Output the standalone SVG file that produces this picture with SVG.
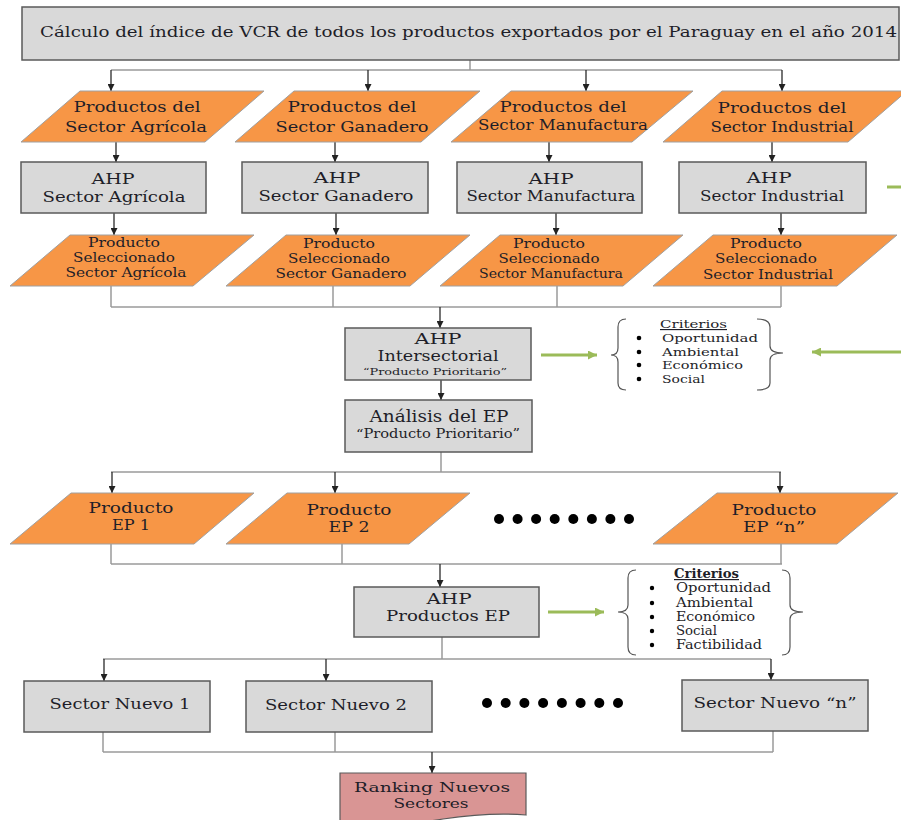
<svg xmlns="http://www.w3.org/2000/svg" width="901" height="820" viewBox="0 0 901 820" font-family="'DejaVu Serif', 'Liberation Serif', serif">
<defs>
<marker id="ah" viewBox="0 0 10 10" refX="10" refY="5" markerWidth="7" markerHeight="7" markerUnits="userSpaceOnUse" orient="auto"><path d="M0,0 L10,5 L0,10 z" fill="#222"/></marker>
<marker id="ahg" viewBox="0 0 10 10" refX="10" refY="5" markerWidth="11" markerHeight="9" markerUnits="userSpaceOnUse" orient="auto"><path d="M0,0 L10,5 L0,10 z" fill="#9bbb59"/></marker>
</defs>
<style>
.box{fill:#d9d9d9;stroke:#5a5a5a;stroke-width:1.5}
.par{fill:#f79646;stroke:#a0a0a0;stroke-width:1}
.rank{fill:#d99594;stroke:#5a5a5a;stroke-width:1.2}
.bus{fill:none;stroke:#9a9a9a;stroke-width:1.5}
.arr{fill:none;stroke:#2a2a2a;stroke-width:1.3;marker-end:url(#ah)}
.garr{fill:none;stroke:#9bbb59;stroke-width:3;marker-end:url(#ahg)}
.gline{fill:none;stroke:#9bbb59;stroke-width:3}
.brace{fill:none;stroke:#555;stroke-width:1.2}
text{font-family:'DejaVu Serif','Liberation Serif',serif;fill:#1e1e28}
.t16{font-size:16px}
.t155{font-size:15.5px}
.t15{font-size:15px}
.t14{font-size:14px}
.t13{font-size:13px}
.t125{font-size:12.5px}
.t12{font-size:12px}
.t115{font-size:11.5px}
.t10{font-size:10px}
.c{text-anchor:middle}
.dot{fill:#000}
.bul{fill:#000}
</style>

<g id="connectors">
<path class="bus" d="M470,60 V70 M111,70 H782"/>
<path class="arr" d="M111,70 V91"/>
<path class="arr" d="M368,70 V91"/>
<path class="arr" d="M586,70 V91"/>
<path class="arr" d="M782,70 V91"/>
<path class="arr" d="M116,142 V162"/>
<path class="arr" d="M335,142 V162"/>
<path class="arr" d="M549,142 V162"/>
<path class="arr" d="M772,142 V162"/>
<path class="arr" d="M114,213 V235"/>
<path class="arr" d="M336,213 V235"/>
<path class="arr" d="M556,213 V235"/>
<path class="arr" d="M781,213 V235"/>
<path class="bus" d="M111,286 V307 M333,286 V307 M557,286 V307 M781,286 V307 M111,307 H781"/>
<path class="arr" d="M440,307 V328"/>
<path class="arr" d="M441,380 V400"/>
<path class="bus" d="M441,452 V472 M111,472 H781"/>
<path class="arr" d="M112,472 V493"/>
<path class="arr" d="M335,472 V493"/>
<path class="arr" d="M780,472 V493"/>
<path class="bus" d="M111,544 V564 M342,544 V564 M781,544 V564 M111,564 H782"/>
<path class="arr" d="M440,564 V587"/>
<path class="bus" d="M442,637 V659 M103,659 H771"/>
<path class="arr" d="M104,659 V681"/>
<path class="arr" d="M326,659 V681"/>
<path class="arr" d="M771,659 V680"/>
<path class="bus" d="M103,732 V752 M335,732 V752 M773,731 V752 M103,752 H773"/>
<path class="arr" d="M432,752 V773"/>
<path class="garr" d="M541,355 H597"/>
<path class="garr" d="M901,352 H812"/>
<path class="garr" d="M548,612 H604"/>
<path class="gline" d="M887,187 H901"/>
</g>

<g id="n-title">
<rect class="box" x="22" y="7" width="877" height="53"/>
<text class="t155" x="40" y="37" textLength="857" lengthAdjust="spacingAndGlyphs">Cálculo del índice de VCR de todos los productos exportados por el Paraguay en el año 2014</text>
</g>

<g id="n-prod-agr">
<polygon class="par" points="80,91 264,91 205,142 21,142"/>
<text class="t15 c" x="137" y="112" textLength="127" lengthAdjust="spacingAndGlyphs">Productos del</text>
<text class="t15 c" x="136" y="132" textLength="142" lengthAdjust="spacingAndGlyphs">Sector Agrícola</text>
</g>
<g id="n-prod-gan">
<polygon class="par" points="294,91 480,91 421,142 235,142"/>
<text class="t15 c" x="352" y="112" textLength="129" lengthAdjust="spacingAndGlyphs">Productos del</text>
<text class="t15 c" x="352" y="132" textLength="153" lengthAdjust="spacingAndGlyphs">Sector Ganadero</text>
</g>
<g id="n-prod-man">
<polygon class="par" points="511,91 693,91 632,142 451,142"/>
<text class="t15 c" x="563" y="112" textLength="127" lengthAdjust="spacingAndGlyphs">Productos del</text>
<text class="t15 c" x="563" y="130" textLength="170" lengthAdjust="spacingAndGlyphs">Sector Manufactura</text>
</g>
<g id="n-prod-ind">
<polygon class="par" points="722,91 907,91 848,142 663,142"/>
<text class="t15 c" x="782" y="113" textLength="129" lengthAdjust="spacingAndGlyphs">Productos del</text>
<text class="t15 c" x="782" y="132" textLength="143" lengthAdjust="spacingAndGlyphs">Sector Industrial</text>
</g>

<g id="n-ahp-agr">
<rect class="box" x="21" y="162" width="185" height="51"/>
<text class="t15 c" x="113" y="184" textLength="43" lengthAdjust="spacingAndGlyphs">AHP</text>
<text class="t15 c" x="114" y="202" textLength="143" lengthAdjust="spacingAndGlyphs">Sector Agrícola</text>
</g>
<g id="n-ahp-gan">
<rect class="box" x="242" y="162" width="186" height="51"/>
<text class="t15 c" x="337" y="183" textLength="47" lengthAdjust="spacingAndGlyphs">AHP</text>
<text class="t15 c" x="336" y="201" textLength="155" lengthAdjust="spacingAndGlyphs">Sector Ganadero</text>
</g>
<g id="n-ahp-man">
<rect class="box" x="457" y="162" width="185" height="51"/>
<text class="t15 c" x="551" y="184" textLength="45" lengthAdjust="spacingAndGlyphs">AHP</text>
<text class="t15 c" x="551" y="201" textLength="169" lengthAdjust="spacingAndGlyphs">Sector Manufactura</text>
</g>
<g id="n-ahp-ind">
<rect class="box" x="679" y="162" width="187" height="51"/>
<text class="t15 c" x="769" y="183" textLength="45" lengthAdjust="spacingAndGlyphs">AHP</text>
<text class="t15 c" x="772" y="201" textLength="144" lengthAdjust="spacingAndGlyphs">Sector Industrial</text>
</g>

<g id="n-sel-agr">
<polygon class="par" points="70,235 254,235 193,286 10,286"/>
<text class="t125 c" x="124" y="247" textLength="72" lengthAdjust="spacingAndGlyphs">Producto</text>
<text class="t125 c" x="124" y="262" textLength="102" lengthAdjust="spacingAndGlyphs">Seleccionado</text>
<text class="t125 c" x="126" y="277" textLength="121" lengthAdjust="spacingAndGlyphs">Sector Agrícola</text>
</g>
<g id="n-sel-gan">
<polygon class="par" points="286,235 470,235 410,286 226,286"/>
<text class="t125 c" x="339" y="248" textLength="72" lengthAdjust="spacingAndGlyphs">Producto</text>
<text class="t125 c" x="339" y="263" textLength="102" lengthAdjust="spacingAndGlyphs">Seleccionado</text>
<text class="t125 c" x="341" y="278" textLength="131" lengthAdjust="spacingAndGlyphs">Sector Ganadero</text>
</g>
<g id="n-sel-man">
<polygon class="par" points="500,235 683,235 623,286 440,286"/>
<text class="t125 c" x="549" y="248" textLength="72" lengthAdjust="spacingAndGlyphs">Producto</text>
<text class="t125 c" x="549" y="263" textLength="101" lengthAdjust="spacingAndGlyphs">Seleccionado</text>
<text class="t125 c" x="551" y="278" textLength="144" lengthAdjust="spacingAndGlyphs">Sector Manufactura</text>
</g>
<g id="n-sel-ind">
<polygon class="par" points="713,235 897,235 837,286 653,286"/>
<text class="t125 c" x="766" y="248" textLength="72" lengthAdjust="spacingAndGlyphs">Producto</text>
<text class="t125 c" x="766" y="263" textLength="102" lengthAdjust="spacingAndGlyphs">Seleccionado</text>
<text class="t125 c" x="768" y="279" textLength="130" lengthAdjust="spacingAndGlyphs">Sector Industrial</text>
</g>

<g id="n-ahp-inter">
<rect class="box" x="345" y="328" width="186" height="52"/>
<text class="t14 c" x="438" y="344" textLength="47" lengthAdjust="spacingAndGlyphs">AHP</text>
<text class="t15 c" x="438" y="361" textLength="121" lengthAdjust="spacingAndGlyphs">Intersectorial</text>
<text class="t10 c" x="435" y="375" textLength="144" lengthAdjust="spacingAndGlyphs">“Producto Prioritario”</text>
</g>

<g id="n-criterios1">
<path class="brace" d="M626,319 Q618,319 618,327 L618,348 Q618,355 611,355 Q618,355 618,362 L618,383 Q618,390 626,390"/>
<path class="brace" d="M757,319 Q770,319 770,327 L770,346 Q770,353 783,353 Q770,353 770,360 L770,383 Q770,390 757,390"/>
<text class="t115" x="660" y="328" textLength="67" lengthAdjust="spacingAndGlyphs" text-decoration="underline">Criterios</text>
<circle class="bul" cx="639" cy="338" r="2.3"/>
<circle class="bul" cx="639" cy="352" r="2.3"/>
<circle class="bul" cx="639" cy="365" r="2.3"/>
<circle class="bul" cx="639" cy="379" r="2.3"/>
<text class="t115" x="662" y="342" textLength="96" lengthAdjust="spacingAndGlyphs">Oportunidad</text>
<text class="t115" x="662" y="356" textLength="77" lengthAdjust="spacingAndGlyphs">Ambiental</text>
<text class="t115" x="662" y="369" textLength="81" lengthAdjust="spacingAndGlyphs">Económico</text>
<text class="t115" x="662" y="383" textLength="43" lengthAdjust="spacingAndGlyphs">Social</text>
</g>

<g id="n-analisis">
<rect class="box" x="345" y="400" width="187" height="52"/>
<text class="t16 c" x="439" y="422" textLength="139" lengthAdjust="spacingAndGlyphs">Análisis del EP</text>
<text class="t12 c" x="438" y="438" textLength="164" lengthAdjust="spacingAndGlyphs">“Producto Prioritario”</text>
</g>

<g id="n-ep1">
<polygon class="par" points="71,493 254,493 194,544 10,544"/>
<text class="t15 c" x="131" y="513" textLength="85" lengthAdjust="spacingAndGlyphs">Producto</text>
<text class="t15 c" x="131" y="530" textLength="38" lengthAdjust="spacingAndGlyphs">EP 1</text>
</g>
<g id="n-ep2">
<polygon class="par" points="287,493 470,493 409,544 226,544"/>
<text class="t15 c" x="349" y="515" textLength="85" lengthAdjust="spacingAndGlyphs">Producto</text>
<text class="t15 c" x="349" y="532" textLength="41" lengthAdjust="spacingAndGlyphs">EP 2</text>
</g>
<g id="n-ep-dots">
<circle class="dot" cx="499" cy="519" r="5"/>
<circle class="dot" cx="517.6" cy="519" r="5"/>
<circle class="dot" cx="536.1" cy="519" r="5"/>
<circle class="dot" cx="554.7" cy="519" r="5"/>
<circle class="dot" cx="573.3" cy="519" r="5"/>
<circle class="dot" cx="591.9" cy="519" r="5"/>
<circle class="dot" cx="610.4" cy="519" r="5"/>
<circle class="dot" cx="629" cy="519" r="5"/>
</g>
<g id="n-epn">
<polygon class="par" points="717,493 898,493 837,544 653,544"/>
<text class="t15 c" x="774" y="515" textLength="85" lengthAdjust="spacingAndGlyphs">Producto</text>
<text class="t15 c" x="774" y="532" textLength="62" lengthAdjust="spacingAndGlyphs">EP “n”</text>
</g>

<g id="n-ahp-ep">
<rect class="box" x="354" y="587" width="185" height="50"/>
<text class="t15 c" x="449" y="604" textLength="45" lengthAdjust="spacingAndGlyphs">AHP</text>
<text class="t15 c" x="448" y="621" textLength="124" lengthAdjust="spacingAndGlyphs">Productos EP</text>
</g>

<g id="n-criterios2">
<path class="brace" d="M636,570 Q628,570 628,578 L628,605 Q628,612 618,612 Q628,612 628,619 L628,647 Q628,655 636,655"/>
<path class="brace" d="M782,570 Q790,570 790,578 L790,605 Q790,612 803,612 Q790,612 790,619 L790,647 Q790,655 782,655"/>
<text class="t12" x="674" y="578" textLength="65" lengthAdjust="spacingAndGlyphs" text-decoration="underline" font-weight="bold">Criterios</text>
<circle class="bul" cx="652" cy="588" r="2.2"/>
<circle class="bul" cx="652" cy="603" r="2.2"/>
<circle class="bul" cx="652" cy="617" r="2.2"/>
<circle class="bul" cx="652" cy="631" r="2.2"/>
<circle class="bul" cx="652" cy="645" r="2.2"/>
<text class="t12" x="676" y="592" textLength="95" lengthAdjust="spacingAndGlyphs">Oportunidad</text>
<text class="t12" x="676" y="607" textLength="77" lengthAdjust="spacingAndGlyphs">Ambiental</text>
<text class="t12" x="676" y="621" textLength="79" lengthAdjust="spacingAndGlyphs">Económico</text>
<text class="t12" x="676" y="635" textLength="41" lengthAdjust="spacingAndGlyphs">Social</text>
<text class="t12" x="676" y="649" textLength="86" lengthAdjust="spacingAndGlyphs">Factibilidad</text>
</g>

<g id="n-sn1">
<rect class="box" x="24" y="681" width="186" height="51"/>
<text class="t15 c" x="120" y="709" textLength="141" lengthAdjust="spacingAndGlyphs">Sector Nuevo 1</text>
</g>
<g id="n-sn2">
<rect class="box" x="246" y="681" width="186" height="51"/>
<text class="t15 c" x="336" y="710" textLength="142" lengthAdjust="spacingAndGlyphs">Sector Nuevo 2</text>
</g>
<g id="n-sn-dots">
<circle class="dot" cx="487" cy="703" r="5"/>
<circle class="dot" cx="505.7" cy="703" r="5"/>
<circle class="dot" cx="524.4" cy="703" r="5"/>
<circle class="dot" cx="543.1" cy="703" r="5"/>
<circle class="dot" cx="561.9" cy="703" r="5"/>
<circle class="dot" cx="580.6" cy="703" r="5"/>
<circle class="dot" cx="599.3" cy="703" r="5"/>
<circle class="dot" cx="618" cy="703" r="5"/>
</g>
<g id="n-snn">
<rect class="box" x="682" y="680" width="186" height="51"/>
<text class="t15 c" x="775" y="708" textLength="163" lengthAdjust="spacingAndGlyphs">Sector Nuevo “n”</text>
</g>

<g id="n-ranking">
<path class="rank" d="M340,773 H526 V815 Q490,812 443,819 Q400,826 340,830 Z"/>
<text class="t13 c" x="432" y="792" textLength="156" lengthAdjust="spacingAndGlyphs">Ranking Nuevos</text>
<text class="t13 c" x="431" y="808" textLength="75" lengthAdjust="spacingAndGlyphs">Sectores</text>
</g>
</svg>
